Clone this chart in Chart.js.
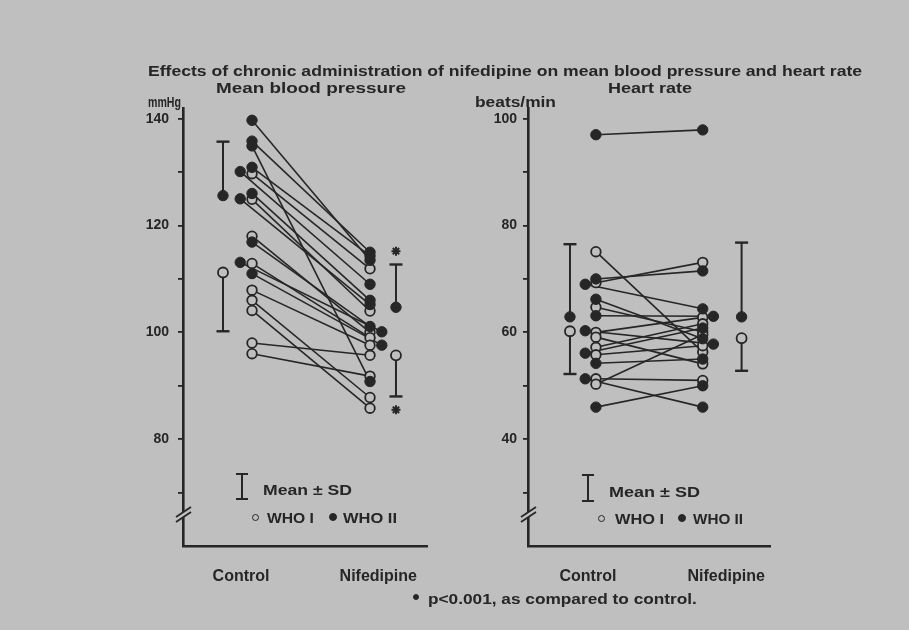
<!DOCTYPE html>
<html><head><meta charset="utf-8">
<script src="https://cdn.jsdelivr.net/npm/chart.js@4/dist/chart.umd.min.js"></script>
<style>
html,body{margin:0;padding:0;background:#bfbfbf;}
#wrap{position:relative;width:909px;height:630px;overflow:hidden;background:#bfbfbf;}
canvas{position:absolute;top:0;}
.t{position:absolute;white-space:nowrap;font-family:'Liberation Sans',Arial,sans-serif;font-weight:bold;color:#262626;transform-origin:0 50%;}
.g{position:absolute;box-sizing:border-box;}
</style></head><body><div id="wrap">
<canvas id="c1" width="460" height="630" style="left:0px"></canvas>
<canvas id="c2" width="449" height="630" style="left:460px"></canvas>
</div>
<script>
// ---------------- data ----------------
const categories = ['Control', 'Nifedipine'];

// Mean blood pressure (mmHg), one entry per patient
const bpControlWHO1    = [129.7, 124.9, 118.0, 112.9, 107.9, 106.0, 104.1, 98.0, 96.0];
const bpNifedipineWHO1 = [111.9, 104.0, 100.0, 99.0, 97.6, 87.8, 85.8, 95.7, 91.8];
const bpControlWHO2    = [139.7, 135.8, 134.9, 130.9, 130.1, 126.0, 125.0, 116.9, 113.1, 111.0];
const bpNifedipineWHO2 = [113.5, 115.0, 90.8, 114.3, 109.0, 106.0, 105.2, 101.1, 100.1, 97.6];
const bpMeanWHO1 = [111.2, 95.7];
const bpSdWHO1   = [11.0, 7.7];
const bpMeanWHO2 = [125.6, 104.7];
const bpSdWHO2   = [10.1, 8.0];
const bpSignificant = [false, true];

// Heart rate (beats/min)
const hrControlWHO1    = [75.1, 69.3, 64.7, 60.0, 59.1, 57.2, 55.8, 51.3, 50.3];
const hrNifedipineWHO1 = [56.3, 73.1, 60.1, 62.8, 54.1, 61.6, 57.5, 51.0, 59.6];
const hrControlWHO2    = [97.0, 70.0, 69.0, 66.2, 63.1, 60.3, 56.1, 54.2, 51.3, 46.0];
const hrNifedipineWHO2 = [97.9, 71.5, 64.4, 58.8, 63.0, 57.8, 60.8, 55.0, 46.0, 50.0];
const hrMeanWHO1 = [60.2, 58.9];
const hrSdWHO1   = [8.0, 6.1];
const hrMeanWHO2 = [62.9, 62.9];
const hrSdWHO2   = [13.6, 13.9];
const hrSignificant = [false, false];

const bpTickLabels = [80, 100, 120, 140];
const hrTickLabels = [40, 60, 80, 100];

// ---------------- style ----------------
const INK = '#262626';
const BG = '#bfbfbf';
const FONT = "'Liberation Sans', Arial, sans-serif";

function dodge(vals, others, dir) {
  return vals.map(v => others.some(o => Math.abs(o - v) < 0.6) ? dir * 0.1 : 0);
}

const breakPlugin = {
  id: 'axisBreak',
  afterDraw(chart) {
    const ctx = chart.ctx, x = chart.chartArea.left, y = chart.chartArea.bottom - 31;
    ctx.save();
    ctx.fillStyle = BG;
    ctx.beginPath();
    ctx.moveTo(x - 7, y + 7); ctx.lineTo(x + 8, y - 3); ctx.lineTo(x + 8, y - 8); ctx.lineTo(x - 7, y + 2); ctx.closePath();
    ctx.fill();
    ctx.strokeStyle = INK; ctx.lineWidth = 1.8;
    ctx.beginPath();
    ctx.moveTo(x - 7, y + 7); ctx.lineTo(x + 8, y - 3);
    ctx.moveTo(x - 7, y + 2); ctx.lineTo(x + 8, y - 8);
    ctx.stroke();
    ctx.restore();
  }
};

function panel(id, p) {
  const ds = [];
  const dc1 = p.c1.map(() => 0);
  const dc2 = dodge(p.c2, p.c1, -1);
  const dn1 = p.n1.map(() => 0);
  const dn2 = dodge(p.n2, p.n1, 1);
  // connecting lines per patient
  p.c1.forEach((v, i) => ds.push({ data: [{x: 1 + dc1[i], y: v}, {x: 2 + dn1[i], y: p.n1[i]}],
    showLine: true, borderColor: INK, borderWidth: 1.6, pointRadius: 0, order: 5 }));
  p.c2.forEach((v, i) => ds.push({ data: [{x: 1 + dc2[i], y: v}, {x: 2 + dn2[i], y: p.n2[i]}],
    showLine: true, borderColor: INK, borderWidth: 1.6, pointRadius: 0, order: 5 }));
  // points
  ds.push({ data: p.c1.map((v, i) => ({x: 1 + dc1[i], y: v})).concat(p.n1.map((v, i) => ({x: 2 + dn1[i], y: v}))),
    pointRadius: 4.8, pointBackgroundColor: BG, pointBorderColor: INK, pointBorderWidth: 1.8, order: 1 });
  ds.push({ data: p.c2.map((v, i) => ({x: 1 + dc2[i], y: v})).concat(p.n2.map((v, i) => ({x: 2 + dn2[i], y: v}))),
    pointRadius: 5.2, pointBackgroundColor: INK, pointBorderColor: INK, pointBorderWidth: 1, order: 0 });
  // mean ± SD bars (WHO II upward, WHO I downward)
  [0, 1].forEach(k => {
    const mx = p.meanX[k];
    ds.push({ data: [{x: mx, y: p.m2[k]}, {x: mx, y: p.m2[k] + p.s2[k]}], showLine: true,
      borderColor: INK, borderWidth: 2, pointStyle: ['circle', 'line'], pointRadius: [5.2, 6.5],
      pointBackgroundColor: INK, pointBorderColor: INK, pointBorderWidth: [1, 2.4], order: 0 });
    ds.push({ data: [{x: mx, y: p.m1[k]}, {x: mx, y: p.m1[k] - p.s1[k]}], showLine: true,
      borderColor: INK, borderWidth: 2, pointStyle: ['circle', 'line'], pointRadius: [5, 6.5],
      pointBackgroundColor: BG, pointBorderColor: INK, pointBorderWidth: [1.8, 2.4], order: 0 });
    if (p.sig[k]) {
      ds.push({ data: [{x: mx, y: p.m2[k] + p.s2[k] + p.starGap}, {x: mx, y: p.m1[k] - p.s1[k] - p.starGap}],
        pointStyle: 'star', pointRadius: 4.5, pointBorderColor: INK, pointBorderWidth: 2, order: 0 });
    }
  });
  return new Chart(document.getElementById(id), {
    type: 'scatter',
    data: { datasets: ds },
    plugins: [breakPlugin],
    options: {
      responsive: false, animation: false, devicePixelRatio: 1,
      layout: { padding: p.pad },
      plugins: { legend: { display: false }, tooltip: { enabled: false }, title: { display: false } },
      scales: {
        x: { type: 'linear', min: p.xMin, max: p.xMax,
          grid: { display: false }, border: { display: true, color: INK, width: 2.6 },
          afterBuildTicks: s => { s.ticks = p.labelX.map(v => ({ value: v })); },
          afterFit: s => { s.height = 40; },
          ticks: { autoSkip: false, maxRotation: 0, padding: 13, color: INK,
            font: { family: FONT, weight: 'bold', size: 16 },
            callback: (v, i) => categories[i] } },
        y: { min: p.yMin, max: p.yMax,
          grid: { display: true, drawOnChartArea: false, drawTicks: true, tickLength: 5, color: INK, lineWidth: 1.8 },
          border: { display: true, color: INK, width: 2.6 },
          afterBuildTicks: s => { s.ticks = s.ticks.filter(t => t.value > p.yMin && t.value < p.yMax); },
          afterFit: s => { s.width = 60; },
          ticks: { stepSize: 10, includeBounds: false, padding: p.tickPad, color: INK,
            font: { family: FONT, weight: 'bold', size: 14 },
            callback: v => p.tickLabels.includes(v) ? String(v) : '' } }
      }
    }
  });
}

panel('c1', { c1: bpControlWHO1, n1: bpNifedipineWHO1, c2: bpControlWHO2, n2: bpNifedipineWHO2,
  m1: bpMeanWHO1, s1: bpSdWHO1, m2: bpMeanWHO2, s2: bpSdWHO2, sig: bpSignificant, starGap: 2.5,
  yMin: 60, yMax: 142, xMin: 0.415, xMax: 2.483, meanX: [0.754, 2.22], labelX: [0.907, 2.07],
  tickLabels: bpTickLabels, tickPad: 9, pad: { left: 123, right: 33, top: 108, bottom: 44 } });

panel('c2', { c1: hrControlWHO1, n1: hrNifedipineWHO1, c2: hrControlWHO2, n2: hrNifedipineWHO2,
  m1: hrMeanWHO1, s1: hrSdWHO1, m2: hrMeanWHO2, s2: hrSdWHO2, sig: hrSignificant, starGap: 2.5,
  yMin: 20, yMax: 102, xMin: 0.364, xMax: 2.63, meanX: [0.757, 2.364], labelX: [0.925, 2.22],
  tickLabels: hrTickLabels, tickPad: 6, pad: { left: 8, right: 139, top: 108, bottom: 44 } });

// ---------------- text ----------------
const wrap = document.getElementById('wrap');
function txt(s, x0, x1, cy, size) {
  const d = document.createElement('div');
  d.className = 't'; d.textContent = s;
  d.style.fontSize = size + 'px'; d.style.lineHeight = size + 'px';
  d.style.left = x0 + 'px'; d.style.top = (cy - size / 2) + 'px';
  wrap.appendChild(d);
  const w = d.getBoundingClientRect().width;
  d.style.transform = 'scaleX(' + ((x1 - x0) / w).toFixed(3) + ')';
}
function glyph(css) {
  const d = document.createElement('div'); d.className = 'g';
  Object.assign(d.style, css); wrap.appendChild(d);
}
function dot(cx, cy, r, filled) {
  glyph({ left: (cx - r) + 'px', top: (cy - r) + 'px', width: 2 * r + 'px', height: 2 * r + 'px',
    borderRadius: '50%', border: '1.6px solid ' + INK, background: filled ? INK : 'transparent' });
}
function ibar(cx, y0, y1) {
  glyph({ left: (cx - 1) + 'px', top: y0 + 'px', width: '2.4px', height: (y1 - y0) + 'px', background: INK });
  glyph({ left: (cx - 6) + 'px', top: y0 + 'px', width: '12px', height: '2.4px', background: INK });
  glyph({ left: (cx - 6) + 'px', top: (y1 - 2) + 'px', width: '12px', height: '2.4px', background: INK });
}

txt('Effects of chronic administration of nifedipine on mean blood pressure and heart rate', 148, 862, 70, 15);
txt('Mean blood pressure', 216, 406, 87, 15);
txt('Heart rate', 608, 692, 87, 15);
txt('mmHg', 148, 181, 102, 14);
txt('beats/min', 475, 556, 102, 14);

ibar(242, 473, 500);
txt('Mean ± SD', 263, 352, 489, 15);
dot(255, 517, 3.5, false); txt('WHO I', 267, 314, 517, 15);
dot(333, 517, 4, true);   txt('WHO II', 343, 397, 517, 15);

ibar(588, 474, 502);
txt('Mean ± SD', 609, 700, 491, 15);
dot(601, 518, 3.5, false); txt('WHO I', 615, 664, 518, 15);
dot(682, 518, 4, true);   txt('WHO II', 693, 743, 518, 15);

dot(416, 597, 3, true);
txt('p<0.001, as compared to control.', 428, 697, 598, 15);
</script>
</body></html>
